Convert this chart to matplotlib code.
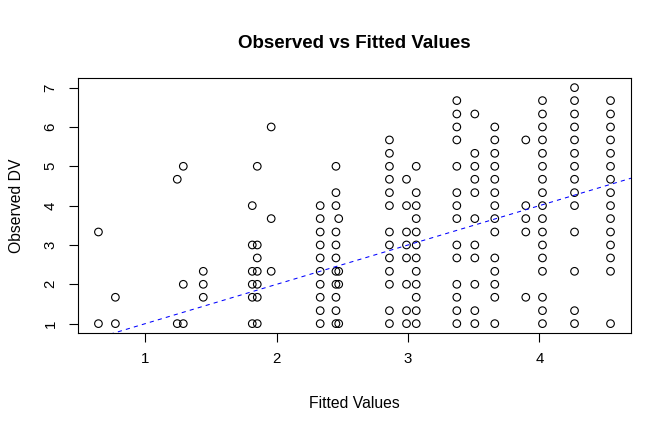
import matplotlib
matplotlib.use("Agg")
import matplotlib.pyplot as plt
import numpy as np

plt.rcParams['font.family'] = ['Liberation Sans', 'DejaVu Sans']

# fitted value of each column of points
fitted_levels = [0.643, 0.772, 1.243, 1.289, 1.441, 1.814, 1.852, 1.958,
                 2.331, 2.451, 2.472, 2.858, 2.988, 3.062, 3.371, 3.508,
                 3.660, 3.896, 4.023, 4.267, 4.541]

# observed DV values seen in each column
observed_by_level = [
    [1, 3.33],
    [1, 1.67],
    [1, 4.67],
    [1, 2, 5],
    [1.67, 2, 2.33],
    [1, 1.67, 2, 2.33, 3, 4],
    [1, 1.67, 2, 2.33, 2.67, 3, 5],
    [2.33, 3.67, 6],
    [1, 1.33, 1.67, 2, 2.33, 2.67, 3, 3.33, 3.67, 4],
    [1, 1.33, 1.67, 2, 2.33, 2.67, 3, 3.33, 4, 4.33, 5],
    [1, 2, 2.33, 3.67],
    [1, 1.33, 2, 2.33, 2.67, 3, 3.33, 4, 4.33, 4.67, 5, 5.33, 5.67],
    [1, 1.33, 2, 2.67, 3, 3.33, 4, 4.67],
    [1, 1.33, 1.67, 2, 2.33, 2.67, 3, 3.33, 3.67, 4, 4.33, 5],
    [1, 1.33, 1.67, 2, 2.67, 3, 3.67, 4, 4.33, 5, 5.67, 6, 6.33, 6.67],
    [1, 1.33, 2, 2.67, 3, 3.67, 4.33, 4.67, 5, 5.33, 6.33],
    [1, 1.67, 2, 2.33, 2.67, 3.33, 3.67, 4, 4.33, 4.67, 5, 5.33, 5.67, 6],
    [1.67, 3.33, 3.67, 4, 5.67],
    [1, 1.33, 1.67, 2.33, 2.67, 3, 3.33, 3.67, 4, 4.33, 4.67, 5, 5.33, 5.67, 6, 6.33, 6.67],
    [1, 1.33, 2.33, 3.33, 4, 4.33, 4.67, 5, 5.33, 5.67, 6, 6.33, 6.67, 7],
    [1, 2.33, 2.67, 3, 3.33, 3.67, 4, 4.33, 4.67, 5, 5.33, 5.67, 6, 6.33, 6.67],
]

x_ticks = [1, 2, 3, 4]
y_ticks = [1, 2, 3, 4, 5, 6, 7]

fitted = []
observed = []
for fx, ys in zip(fitted_levels, observed_by_level):
    fitted += [fx] * len(ys)
    observed += ys
fitted = np.array(fitted)
observed = np.array(observed)

fig = plt.figure(figsize=(6.72, 4.32), dpi=100)
ax = fig.add_axes([0.116, 0.229, 0.823, 0.590])

ax.scatter(fitted, observed, s=30, facecolors='none', edgecolors='black', linewidths=0.8)

# R style 4% padding
xr = fitted.max() - fitted.min()
yr = observed.max() - observed.min()
xlim = (fitted.min() - 0.04 * xr, fitted.max() + 0.04 * xr)
ylim = (observed.min() - 0.04 * yr, observed.max() + 0.04 * yr)
ax.set_xlim(xlim)
ax.set_ylim(ylim)

# reference line y = x
ax.plot(xlim, xlim, color='blue', linestyle=(0, (4, 4)), linewidth=0.75)

ax.set_xticks(x_ticks)
ax.set_yticks(y_ticks)
ax.tick_params(direction='out', length=6.8, width=0.8, labelsize=10.8)
ax.tick_params(axis='x', pad=7)
ax.tick_params(axis='y', pad=8)
for lab in ax.get_yticklabels():
    lab.set_rotation(90)
    lab.set_va('center')
for sp in ax.spines.values():
    sp.set_linewidth(0.8)

ax.set_title('Observed vs Fitted Values', fontsize=13.5, fontweight='bold', pad=0, y=1.118)
ax.set_xlabel('Fitted Values', fontsize=11.3)
ax.set_ylabel('Observed DV', fontsize=11.3)
ax.xaxis.set_label_coords(0.5, -0.245)
ax.yaxis.set_label_coords(-0.098, 0.5)

fig.savefig('out.png', dpi=100)
